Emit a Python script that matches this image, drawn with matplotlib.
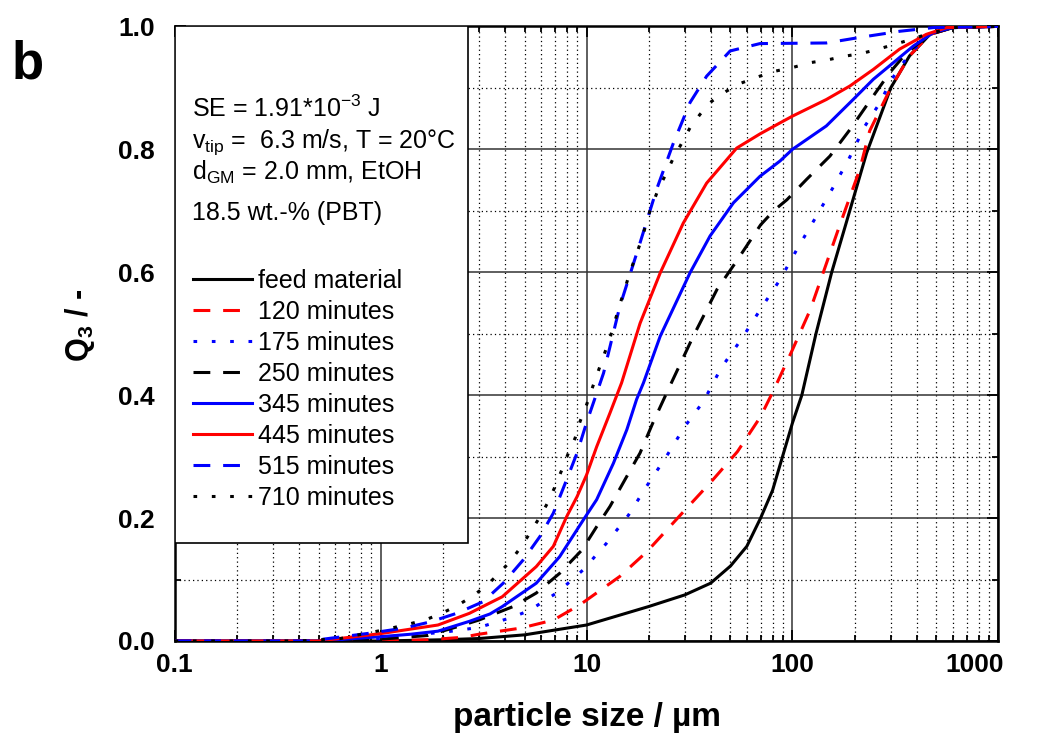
import numpy as np
import matplotlib.pyplot as plt
import matplotlib.transforms as mtransforms
from matplotlib.patches import Rectangle
from matplotlib.ticker import FixedLocator, FuncFormatter, MultipleLocator

plt.rcParams['font.family'] = ['Liberation Sans', 'DejaVu Sans']
plt.rcParams['mathtext.fontset'] = 'custom'
plt.rcParams['mathtext.rm'] = 'Liberation Sans'
plt.rcParams['mathtext.it'] = 'Liberation Sans:italic'
plt.rcParams['mathtext.bf'] = 'Liberation Sans:bold'

# particle size (um) / Q3
x_feed = [0.1, 1, 2, 3, 5, 10, 20, 30, 40, 50, 60, 70, 80, 100, 111, 130, 155, 180, 229, 300, 370, 465, 600, 1000]
q_feed = [0, 0, 0.002, 0.004, 0.01, 0.026, 0.056, 0.075, 0.094, 0.122, 0.154, 0.2, 0.245, 0.355, 0.4, 0.5, 0.6, 0.674, 0.794, 0.9, 0.952, 0.987, 0.998, 1.0]

x_120 = [0.1, 1, 1.7, 2.5, 3, 4.8, 6.9, 9.3, 14.5, 19.6, 28.4, 41, 54, 70, 81, 100, 122, 169, 212, 237, 300, 370, 465, 600, 1000]
q_120 = [0, 0, 0.002, 0.006, 0.011, 0.021, 0.034, 0.059, 0.105, 0.145, 0.204, 0.262, 0.308, 0.365, 0.408, 0.474, 0.539, 0.675, 0.767, 0.83, 0.9, 0.952, 0.987, 0.998, 1.0]

x_175 = [0.1, 0.5, 1, 1.4, 2, 3, 4.4, 5.3, 7.3, 9.65, 12.5, 16, 19.6, 24.5, 30, 37, 45, 57, 70, 87, 105, 128, 155, 187, 225, 266, 303, 370, 465, 600, 1000]
q_175 = [0, 0, 0.004, 0.01, 0.014, 0.022, 0.039, 0.05, 0.08, 0.116, 0.159, 0.205, 0.252, 0.301, 0.349, 0.39, 0.444, 0.493, 0.54, 0.588, 0.637, 0.686, 0.734, 0.783, 0.838, 0.876, 0.914, 0.955, 0.988, 0.998, 1.0]

x_250 = [0.1, 0.7, 1, 1.7, 2.4, 3, 4.4, 5.7, 7.4, 9.5, 11.2, 13, 15.7, 18.2, 21, 25, 33, 43, 54, 70, 81, 94, 117, 152, 190, 247, 297, 358, 465, 600, 1000]
q_250 = [0, 0, 0.003, 0.009, 0.024, 0.034, 0.056, 0.078, 0.11, 0.148, 0.186, 0.219, 0.268, 0.306, 0.355, 0.41, 0.496, 0.572, 0.62, 0.677, 0.7, 0.718, 0.751, 0.789, 0.832, 0.887, 0.925, 0.957, 0.987, 0.998, 1.0]

x_345 = [0.1, 0.5, 1, 1.4, 1.9, 2.7, 3.4, 3.9, 5.7, 7.4, 9.65, 11.2, 13.5, 15.7, 17.5, 18.9, 22.8, 31.8, 39.8, 51.7, 69.5, 87, 100, 146, 197, 247, 309, 386, 483, 600, 1000]
q_345 = [0, 0, 0.007, 0.011, 0.016, 0.032, 0.044, 0.056, 0.094, 0.137, 0.197, 0.23, 0.289, 0.344, 0.393, 0.42, 0.496, 0.599, 0.659, 0.713, 0.756, 0.781, 0.8, 0.838, 0.881, 0.914, 0.941, 0.968, 0.99, 0.998, 1.0]

x_445 = [0.1, 0.5, 1, 1.9, 2.7, 3.4, 3.9, 5.7, 6.9, 8.0, 9, 10, 11.2, 13, 14.8, 18.2, 22.8, 29.5, 38.3, 53.6, 69.5, 87, 100, 146, 190, 247, 331, 446, 560, 1000]
q_445 = [0, 0, 0.012, 0.026, 0.045, 0.062, 0.072, 0.121, 0.154, 0.202, 0.235, 0.27, 0.316, 0.371, 0.42, 0.517, 0.599, 0.68, 0.745, 0.802, 0.825, 0.843, 0.854, 0.881, 0.903, 0.93, 0.963, 0.987, 0.998, 1.0]

x_515 = [0.1, 0.45, 0.9, 1.3, 1.74, 2.34, 3.15, 3.94, 4.93, 5.94, 6.9, 8, 9, 10, 11.2, 12.1, 14.5, 18.2, 21.9, 26.4, 31.8, 38.3, 49.8, 69.5, 146, 212, 331, 483, 1000]
q_515 = [0, 0, 0.013, 0.021, 0.031, 0.045, 0.064, 0.094, 0.132, 0.17, 0.208, 0.262, 0.306, 0.355, 0.403, 0.436, 0.544, 0.648, 0.735, 0.81, 0.876, 0.919, 0.96, 0.972, 0.973, 0.982, 0.992, 0.998, 1.0]

x_710 = [0.1, 0.4, 0.64, 0.78, 1, 1.13, 1.39, 1.67, 1.98, 2.34, 2.77, 3.27, 3.73, 4.25, 4.76, 5.3, 5.94, 6.53, 7.03, 7.58, 8.17, 8.8, 9.3, 10, 10.7, 11.4, 13, 14.5, 16.3, 18.5, 20.3, 22.3, 24.5, 26.4, 29, 31.8, 35.6, 40.5, 48, 56.6, 69.5, 82, 100, 122, 146, 176, 217, 261, 315, 379, 446, 600, 1000]
q_710 = [0, 0, 0.004, 0.01, 0.017, 0.021, 0.028, 0.035, 0.045, 0.057, 0.072, 0.09, 0.109, 0.129, 0.151, 0.175, 0.202, 0.227, 0.251, 0.278, 0.306, 0.33, 0.357, 0.384, 0.413, 0.439, 0.493, 0.547, 0.601, 0.653, 0.699, 0.735, 0.762, 0.786, 0.81, 0.835, 0.857, 0.878, 0.895, 0.908, 0.919, 0.927, 0.933, 0.941, 0.945, 0.951, 0.956, 0.963, 0.971, 0.979, 0.987, 0.998, 1.0]

labels = ['feed material', '120 minutes', '175 minutes', '250 minutes',
          '345 minutes', '445 minutes', '515 minutes', '710 minutes']
x_ticks = [0.1, 1, 10, 100, 1000]
y_ticks = [0.0, 0.2, 0.4, 0.6, 0.8, 1.0]
info_lines = ['SE = 1.91*10$^{\\mathregular{-3}}$ J',
              'v$_{\\mathregular{tip}}$ =  6.3 m/s, T = 20°C',
              'd$_{\\mathregular{GM}}$ = 2.0 mm, EtOH',
              '18.5 wt.-% (PBT)']

series = [(x_feed, q_feed), (x_120, q_120), (x_175, q_175), (x_250, q_250),
          (x_345, q_345), (x_445, q_445), (x_515, q_515), (x_710, q_710)]
colors = ['black', 'red', 'blue', 'black', 'blue', 'red', 'blue', 'black']
dashed = (0, (5.5, 4.2))
dotted = (0, (1.2, 4.8))
styles = ['-', dashed, dotted, dashed, '-', '-', dashed, dotted]

fig = plt.figure(figsize=(10.39, 7.45), dpi=100)
ax = fig.add_axes([0.168, 0.1396, 0.793, 0.825])

for (xs, qs), c, ls, lab in zip(series, colors, styles, labels):
    ax.plot(xs, qs, color=c, linestyle=ls, lw=2.2, label=lab, zorder=4)

ax.set_xscale('log')
ax.set_xlim(0.1, 1000)
ax.set_ylim(0, 1.0)
ax.xaxis.set_major_locator(FixedLocator(x_ticks))
ax.xaxis.set_major_formatter(FuncFormatter(lambda v, p: '%g' % v))
ax.yaxis.set_major_locator(FixedLocator(y_ticks))
ax.yaxis.set_minor_locator(MultipleLocator(0.1))
ax.yaxis.set_major_formatter(FuncFormatter(lambda v, p: '%.1f' % v))

ax.grid(which='major', color='#333333', lw=1.1, ls='-', zorder=1)
ax.grid(which='minor', color='black', lw=0.9, ls=(0, (1, 2.5)), zorder=1)
ax.set_axisbelow(True)

ax.tick_params(which='both', direction='in', top=True, right=True, width=1.3)
ax.tick_params(which='major', length=8, labelsize=19)
ax.tick_params(axis='x', which='major', pad=9)
ax.tick_params(axis='y', which='major', pad=14)
ax.tick_params(which='minor', length=4)
for lbl in ax.get_xticklabels() + ax.get_yticklabels():
    lbl.set_fontweight('bold')
# last x label sits inside the figure edge
last = ax.get_xticklabels()[-1]
last.set_horizontalalignment('right')
last.set_transform(last.get_transform() +
                   mtransforms.ScaledTranslation(5 / 100, 0, fig.dpi_scale_trans))
for sp in ax.spines.values():
    sp.set_linewidth(1.8)

ax.set_xlabel('particle size / µm', fontsize=24, fontweight='bold', labelpad=18)
ax.set_ylabel(r'Q$_\mathbf{3}$ / -', fontsize=22, fontweight='bold')
ax.yaxis.set_label_coords(-0.094, 0.514)

# white box holding the process info and legend
box = Rectangle((0, 0.16), 0.356, 0.84, transform=ax.transAxes,
                facecolor='white', edgecolor='black', lw=1.2, zorder=3)
ax.add_patch(box)

for yy, line in zip([0.853, 0.802, 0.750, 0.685], info_lines):
    ax.text(0.021, yy, line, transform=ax.transAxes, fontsize=18,
            va='baseline', ha='left', zorder=5)

leg = ax.legend(loc='upper left', bbox_to_anchor=(0.0, 0.636), frameon=False,
                fontsize=18, handlelength=2.36, handletextpad=0.24,
                labelspacing=0.28, borderaxespad=0.34, borderpad=0.4)
leg.set_zorder(5)

fig.text(0.011, 0.895, 'b', fontsize=38, fontweight='bold', va='baseline')

plt.savefig('out.png', dpi=100)
